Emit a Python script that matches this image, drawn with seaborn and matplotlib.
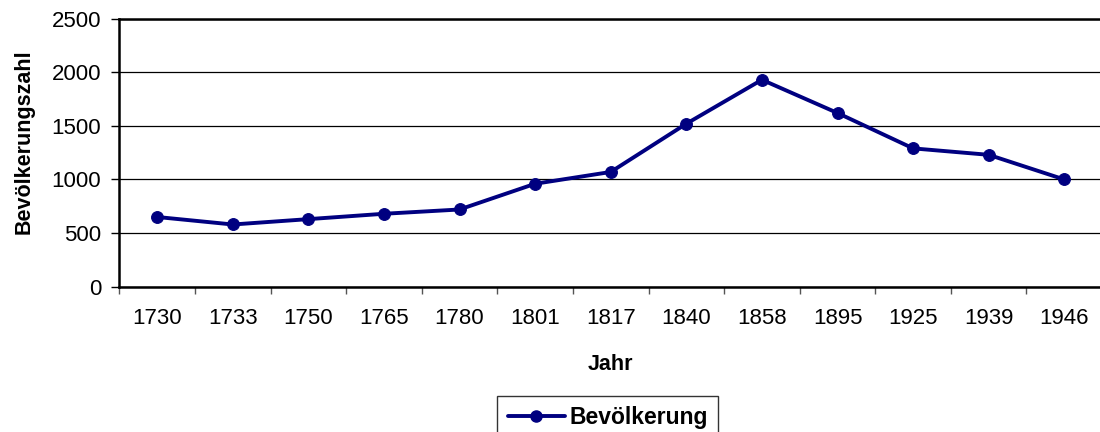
import matplotlib
matplotlib.use("Agg")
import pandas as pd
import seaborn as sns
import matplotlib.pyplot as plt
from matplotlib.lines import Line2D

years = ["1730", "1733", "1750", "1765", "1780", "1801", "1817",
         "1840", "1858", "1895", "1925", "1939", "1946"]
population = [650, 580, 630, 680, 720, 960, 1070, 1520, 1930, 1620, 1290, 1230, 1000]
y_ticks = [0, 500, 1000, 1500, 2000, 2500]


def main():
    df = pd.DataFrame({"Jahr": years, "Bevölkerung": population})
    sns.set_style("white")
    plt.rcParams["font.family"] = ["Liberation Sans", "DejaVu Sans"]
    for key in ["text.color", "axes.labelcolor", "xtick.color", "ytick.color"]:
        plt.rcParams[key] = "black"

    fs = 16
    fig = plt.figure(figsize=(11, 4.32), dpi=100)
    ax = fig.add_axes([0.1085, 0.3364, 0.8934, 0.6204])
    navy = "#000080"
    sns.lineplot(data=df, x="Jahr", y="Bevölkerung", ax=ax, sort=False,
                 color=navy, linewidth=2.8, marker="o", markersize=8.5,
                 markeredgecolor=navy)

    ax.set_xlim(-0.5, len(years) - 0.5)
    ax.set_ylim(0, 2500)
    ax.set_yticks(y_ticks)
    ax.yaxis.grid(True, color="black", linewidth=0.9)
    ax.set_axisbelow(True)
    ax.set_xticks(range(len(years)))
    ax.set_xticklabels(years, fontsize=fs)
    ax.set_xticks([i + 0.5 for i in range(-1, len(years))], minor=True)
    ax.tick_params(axis="x", which="major", length=0, pad=15)
    ax.tick_params(axis="x", which="minor", length=5, width=1, color="#555555", direction="out", bottom=True)
    ax.tick_params(axis="y", length=6, width=1, direction="out", left=True, labelsize=fs, pad=7)

    for side in ["left", "bottom", "top"]:
        ax.spines[side].set_color("black")
        ax.spines[side].set_linewidth(1.8)
    ax.spines["right"].set_visible(False)

    ax.set_xlabel("Jahr", fontsize=15.5, fontweight="bold", labelpad=18)
    ax.set_ylabel("Bevölkerungszahl", fontsize=15.5, fontweight="bold", labelpad=12, y=0.54)

    handle = Line2D([], [], color=navy, linewidth=2.8, marker="o", markersize=8)
    leg = ax.legend([handle], ["Bevölkerung"], loc="upper center",
                    bbox_to_anchor=(0.497, -0.408), borderaxespad=0, frameon=True, fancybox=False,
                    edgecolor="black", prop={"weight": "bold", "size": 16.5},
                    handlelength=2.5, borderpad=0.45, handletextpad=0.2)
    leg.get_frame().set_linewidth(1.0)

    fig.savefig("out.png", dpi=100)


if __name__ == "__main__":
    main()
